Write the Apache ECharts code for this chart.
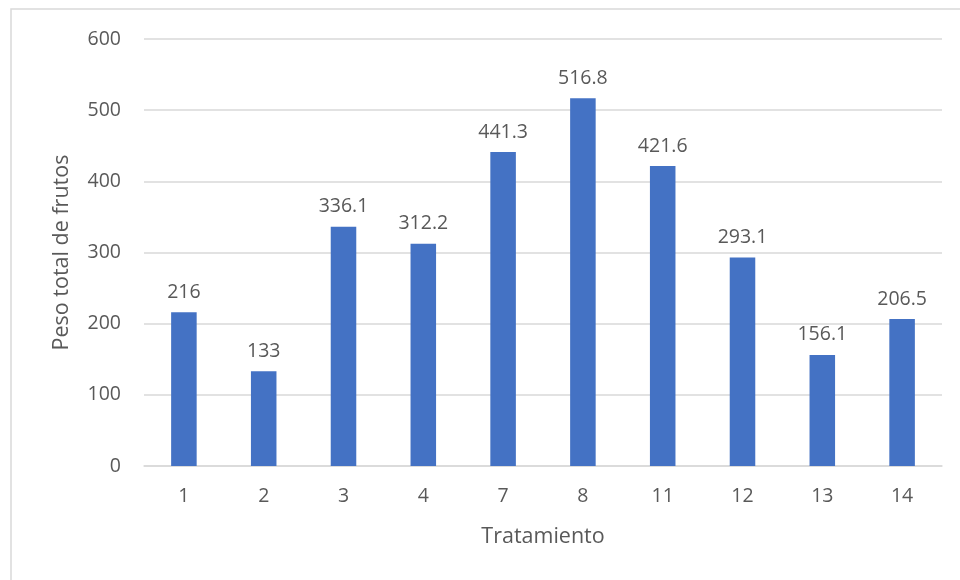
<!DOCTYPE html>
<html><head><meta charset="utf-8">
<script src="https://cdn.jsdelivr.net/npm/echarts@6/dist/echarts.min.js"></script>
<style>html,body{margin:0;padding:0;background:#fff}#c{width:960px;height:580px}</style>
</head><body><div id="c"></div>
<script>
const categories = ['1','2','3','4','7','8','11','12','13','14'];
const values = [216, 133, 336.1, 312.2, 441.3, 516.8, 421.6, 293.1, 156.1, 206.5];
const yTicks = {min: 0, max: 600, interval: 100};
const FONT = '"Open Sans", "Liberation Sans", sans-serif';
const TXT = '#595959';
const chart = echarts.init(document.getElementById('c'), null, {renderer: 'canvas'});
chart.setOption({
  animation: false,
  backgroundColor: '#fff',
  graphic: [{type: 'rect', shape: {x: 11, y: 9, width: 1000, height: 1000}, style: {fill: 'none', stroke: '#d9d9d9', lineWidth: 1.5}, silent: true}],
  grid: {left: 144, right: 18, top: 39, bottom: 114},
  xAxis: {
    type: 'category', data: categories,
    axisLine: {lineStyle: {color: '#d9d9d9', width: 1.5}},
    axisTick: {show: false},
    axisLabel: {color: TXT, fontFamily: FONT, fontSize: 19.5, margin: 20},
    name: 'Tratamiento', nameLocation: 'middle', nameGap: 60,
    nameTextStyle: {color: TXT, fontFamily: FONT, fontSize: 21.5}
  },
  yAxis: {
    type: 'value', min: yTicks.min, max: yTicks.max, interval: yTicks.interval,
    axisLine: {show: false}, axisTick: {show: false},
    splitLine: {lineStyle: {color: '#d9d9d9', width: 1.5}},
    axisLabel: {color: TXT, fontFamily: FONT, fontSize: 19.5, margin: 23},
    name: 'Peso total de frutos', nameLocation: 'middle', nameGap: 71,
    nameTextStyle: {color: TXT, fontFamily: FONT, fontSize: 21.5}
  },
  series: [{
    type: 'bar', data: values, barWidth: '32%',
    itemStyle: {color: '#4472C4'},
    label: {show: true, position: 'top', distance: 10, color: TXT, fontFamily: FONT, fontSize: 19.5}
  }]
});
</script></body></html>
